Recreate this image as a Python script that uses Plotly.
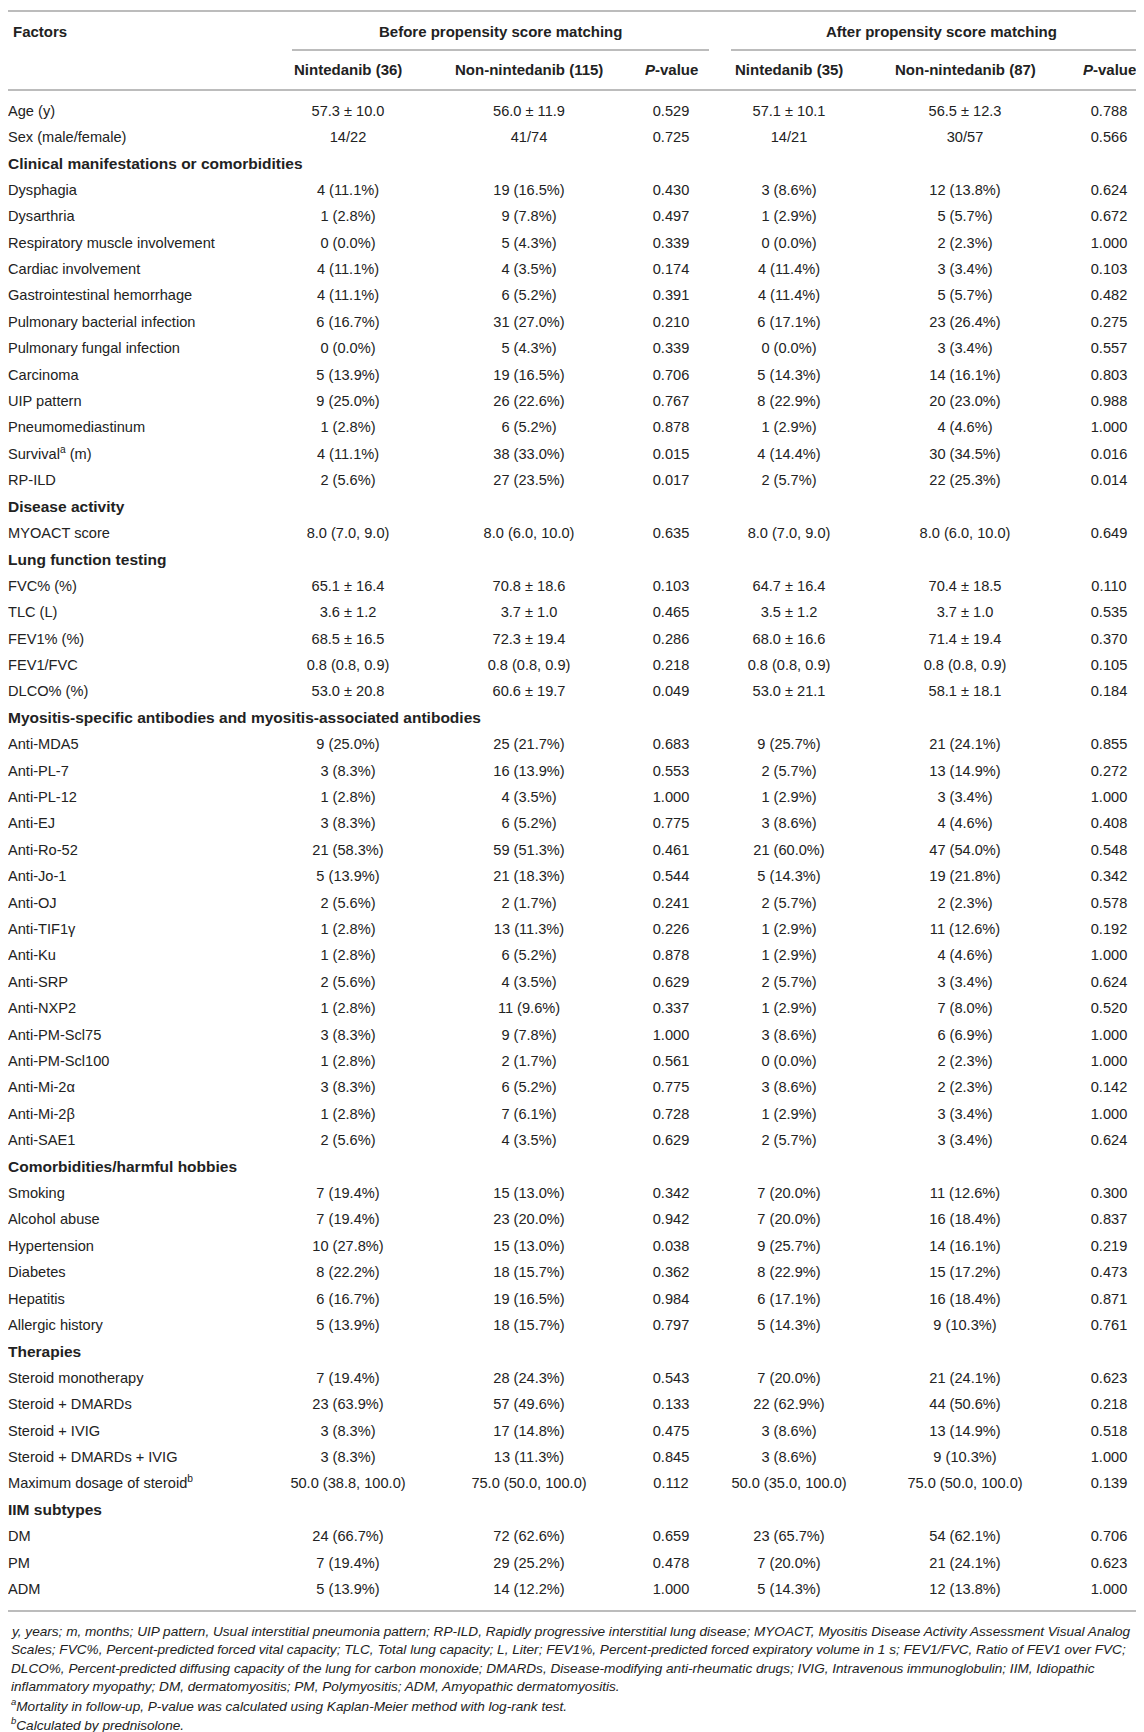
import plotly.graph_objects as go

# table content
factors = [
    "Age (y)", "Sex (male/female)",
    "Clinical manifestations or comorbidities",
    "Dysphagia", "Dysarthria", "Respiratory muscle involvement", "Cardiac involvement",
    "Gastrointestinal hemorrhage", "Pulmonary bacterial infection", "Pulmonary fungal infection",
    "Carcinoma", "UIP pattern", "Pneumomediastinum", "Survival<sup>a</sup> (m)", "RP-ILD",
    "Disease activity",
    "MYOACT score",
    "Lung function testing",
    "FVC% (%)", "TLC (L)", "FEV1% (%)", "FEV1/FVC", "DLCO% (%)",
    "Myositis-specific antibodies and myositis-associated antibodies",
    "Anti-MDA5", "Anti-PL-7", "Anti-PL-12", "Anti-EJ", "Anti-Ro-52", "Anti-Jo-1", "Anti-OJ",
    "Anti-TIF1γ", "Anti-Ku", "Anti-SRP", "Anti-NXP2", "Anti-PM-Scl75", "Anti-PM-Scl100",
    "Anti-Mi-2α", "Anti-Mi-2β", "Anti-SAE1",
    "Comorbidities/harmful hobbies",
    "Smoking", "Alcohol abuse", "Hypertension", "Diabetes", "Hepatitis", "Allergic history",
    "Therapies",
    "Steroid monotherapy", "Steroid + DMARDs", "Steroid + IVIG", "Steroid + DMARDs + IVIG",
    "Maximum dosage of steroid<sup>b</sup>",
    "IIM subtypes",
    "DM", "PM", "ADM",
]

sections = {
    "Clinical manifestations or comorbidities", "Disease activity", "Lung function testing",
    "Myositis-specific antibodies and myositis-associated antibodies",
    "Comorbidities/harmful hobbies", "Therapies", "IIM subtypes",
}

nin_before = [
    "57.3 ± 10.0", "14/22", "",
    "4 (11.1%)", "1 (2.8%)", "0 (0.0%)", "4 (11.1%)", "4 (11.1%)", "6 (16.7%)", "0 (0.0%)",
    "5 (13.9%)", "9 (25.0%)", "1 (2.8%)", "4 (11.1%)", "2 (5.6%)",
    "", "8.0 (7.0, 9.0)",
    "", "65.1 ± 16.4", "3.6 ± 1.2", "68.5 ± 16.5", "0.8 (0.8, 0.9)", "53.0 ± 20.8",
    "", "9 (25.0%)", "3 (8.3%)", "1 (2.8%)", "3 (8.3%)", "21 (58.3%)", "5 (13.9%)", "2 (5.6%)",
    "1 (2.8%)", "1 (2.8%)", "2 (5.6%)", "1 (2.8%)", "3 (8.3%)", "1 (2.8%)", "3 (8.3%)",
    "1 (2.8%)", "2 (5.6%)",
    "", "7 (19.4%)", "7 (19.4%)", "10 (27.8%)", "8 (22.2%)", "6 (16.7%)", "5 (13.9%)",
    "", "7 (19.4%)", "23 (63.9%)", "3 (8.3%)", "3 (8.3%)", "50.0 (38.8, 100.0)",
    "", "24 (66.7%)", "7 (19.4%)", "5 (13.9%)",
]

non_before = [
    "56.0 ± 11.9", "41/74", "",
    "19 (16.5%)", "9 (7.8%)", "5 (4.3%)", "4 (3.5%)", "6 (5.2%)", "31 (27.0%)", "5 (4.3%)",
    "19 (16.5%)", "26 (22.6%)", "6 (5.2%)", "38 (33.0%)", "27 (23.5%)",
    "", "8.0 (6.0, 10.0)",
    "", "70.8 ± 18.6", "3.7 ± 1.0", "72.3 ± 19.4", "0.8 (0.8, 0.9)", "60.6 ± 19.7",
    "", "25 (21.7%)", "16 (13.9%)", "4 (3.5%)", "6 (5.2%)", "59 (51.3%)", "21 (18.3%)",
    "2 (1.7%)", "13 (11.3%)", "6 (5.2%)", "4 (3.5%)", "11 (9.6%)", "9 (7.8%)", "2 (1.7%)",
    "6 (5.2%)", "7 (6.1%)", "4 (3.5%)",
    "", "15 (13.0%)", "23 (20.0%)", "15 (13.0%)", "18 (15.7%)", "19 (16.5%)", "18 (15.7%)",
    "", "28 (24.3%)", "57 (49.6%)", "17 (14.8%)", "13 (11.3%)", "75.0 (50.0, 100.0)",
    "", "72 (62.6%)", "29 (25.2%)", "14 (12.2%)",
]

p_before = [
    "0.529", "0.725", "",
    "0.430", "0.497", "0.339", "0.174", "0.391", "0.210", "0.339", "0.706", "0.767",
    "0.878", "0.015", "0.017",
    "", "0.635",
    "", "0.103", "0.465", "0.286", "0.218", "0.049",
    "", "0.683", "0.553", "1.000", "0.775", "0.461", "0.544", "0.241", "0.226", "0.878",
    "0.629", "0.337", "1.000", "0.561", "0.775", "0.728", "0.629",
    "", "0.342", "0.942", "0.038", "0.362", "0.984", "0.797",
    "", "0.543", "0.133", "0.475", "0.845", "0.112",
    "", "0.659", "0.478", "1.000",
]

nin_after = [
    "57.1 ± 10.1", "14/21", "",
    "3 (8.6%)", "1 (2.9%)", "0 (0.0%)", "4 (11.4%)", "4 (11.4%)", "6 (17.1%)", "0 (0.0%)",
    "5 (14.3%)", "8 (22.9%)", "1 (2.9%)", "4 (14.4%)", "2 (5.7%)",
    "", "8.0 (7.0, 9.0)",
    "", "64.7 ± 16.4", "3.5 ± 1.2", "68.0 ± 16.6", "0.8 (0.8, 0.9)", "53.0 ± 21.1",
    "", "9 (25.7%)", "2 (5.7%)", "1 (2.9%)", "3 (8.6%)", "21 (60.0%)", "5 (14.3%)", "2 (5.7%)",
    "1 (2.9%)", "1 (2.9%)", "2 (5.7%)", "1 (2.9%)", "3 (8.6%)", "0 (0.0%)", "3 (8.6%)",
    "1 (2.9%)", "2 (5.7%)",
    "", "7 (20.0%)", "7 (20.0%)", "9 (25.7%)", "8 (22.9%)", "6 (17.1%)", "5 (14.3%)",
    "", "7 (20.0%)", "22 (62.9%)", "3 (8.6%)", "3 (8.6%)", "50.0 (35.0, 100.0)",
    "", "23 (65.7%)", "7 (20.0%)", "5 (14.3%)",
]

non_after = [
    "56.5 ± 12.3", "30/57", "",
    "12 (13.8%)", "5 (5.7%)", "2 (2.3%)", "3 (3.4%)", "5 (5.7%)", "23 (26.4%)", "3 (3.4%)",
    "14 (16.1%)", "20 (23.0%)", "4 (4.6%)", "30 (34.5%)", "22 (25.3%)",
    "", "8.0 (6.0, 10.0)",
    "", "70.4 ± 18.5", "3.7 ± 1.0", "71.4 ± 19.4", "0.8 (0.8, 0.9)", "58.1 ± 18.1",
    "", "21 (24.1%)", "13 (14.9%)", "3 (3.4%)", "4 (4.6%)", "47 (54.0%)", "19 (21.8%)",
    "2 (2.3%)", "11 (12.6%)", "4 (4.6%)", "3 (3.4%)", "7 (8.0%)", "6 (6.9%)", "2 (2.3%)",
    "2 (2.3%)", "3 (3.4%)", "3 (3.4%)",
    "", "11 (12.6%)", "16 (18.4%)", "14 (16.1%)", "15 (17.2%)", "16 (18.4%)", "9 (10.3%)",
    "", "21 (24.1%)", "44 (50.6%)", "13 (14.9%)", "9 (10.3%)", "75.0 (50.0, 100.0)",
    "", "54 (62.1%)", "21 (24.1%)", "12 (13.8%)",
]

p_after = [
    "0.788", "0.566", "",
    "0.624", "0.672", "1.000", "0.103", "0.482", "0.275", "0.557", "0.803", "0.988",
    "1.000", "0.016", "0.014",
    "", "0.649",
    "", "0.110", "0.535", "0.370", "0.105", "0.184",
    "", "0.855", "0.272", "1.000", "0.408", "0.548", "0.342", "0.578", "0.192", "1.000",
    "0.624", "0.520", "1.000", "1.000", "0.142", "1.000", "0.624",
    "", "0.300", "0.837", "0.219", "0.473", "0.871", "0.761",
    "", "0.623", "0.218", "0.518", "1.000", "0.139",
    "", "0.706", "0.623", "1.000",
]

col_headers = ["Nintedanib (36)", "Non-nintedanib (115)", "<i>P</i>-value",
               "Nintedanib (35)", "Non-nintedanib (87)", "<i>P</i>-value"]
spanners = ["Before propensity score matching", "After propensity score matching"]

footnotes = [
    "y, years; m, months; UIP pattern, Usual interstitial pneumonia pattern; RP-ILD, Rapidly progressive interstitial lung disease; MYOACT, Myositis Disease Activity Assessment Visual Analog",
    "Scales; FVC%, Percent-predicted forced vital capacity; TLC, Total lung capacity; L, Liter; FEV1%, Percent-predicted forced expiratory volume in 1 s; FEV1/FVC, Ratio of FEV1 over FVC;",
    "DLCO%, Percent-predicted diffusing capacity of the lung for carbon monoxide; DMARDs, Disease-modifying anti-rheumatic drugs; IVIG, Intravenous immunoglobulin; IIM, Idiopathic",
    "inflammatory myopathy; DM, dermatomyositis; PM, Polymyositis; ADM, Amyopathic dermatomyositis.",
    "<sup>a</sup>Mortality in follow-up, P-value was calculated using Kaplan-Meier method with log-rank test.",
    "<sup>b</sup>Calculated by prednisolone.",
]

# layout (pixel space)
W, H = 1144, 1732
FONT = "Liberation Sans, Arial, Helvetica, sans-serif"
TXT = "#222222"
LINE = "#a6a6a6"
col_x = [340, 521, 663, 781, 957, 1101]
row0, pitch = 104, 26.4
row_y = [row0 + i * pitch for i in range(len(factors))]

fig = go.Figure()

# left column
labels = ["<b>" + f + "</b>" if f in sections else f for f in factors]
sizes = [15.5 if f in sections else 14.6 for f in factors]
fig.add_trace(go.Scatter(
    x=[0] * len(labels), y=row_y, text=labels, mode="text",
    textposition="middle right", textfont=dict(family=FONT, size=sizes, color=TXT),
    hoverinfo="skip", showlegend=False))

# value columns (section rows have no values, skip them)
for cx, vals in zip(col_x, [nin_before, non_before, p_before, nin_after, non_after, p_after]):
    ys = [y for y, v in zip(row_y, vals) if v]
    ts = [v for v in vals if v]
    fig.add_trace(go.Scatter(
        x=[cx] * len(ts), y=ys, text=ts, mode="text",
        textposition="middle center", textfont=dict(family=FONT, size=14.6, color=TXT),
        hoverinfo="skip", showlegend=False))

# header
hdr = dict(family=FONT, size=15, color=TXT)
fig.add_annotation(x=3, y=23, text="<b>Factors</b>", xanchor="left", yanchor="middle",
                   showarrow=False, font=hdr)
fig.add_annotation(x=(284 + 701) / 2, y=23, text="<b>" + spanners[0] + "</b>",
                   showarrow=False, font=hdr, yanchor="middle")
fig.add_annotation(x=(723 + 1144) / 2, y=23, text="<b>" + spanners[1] + "</b>",
                   showarrow=False, font=hdr, yanchor="middle")
for cx, h in zip(col_x, col_headers):
    fig.add_annotation(x=cx, y=61, text="<b>" + h + "</b>", showarrow=False,
                       font=hdr, yanchor="middle")

# rules
lines = [(0, W, 3), (284, 701, 42), (723, W, 42), (0, W, 82), (0, W, 1603)]
for x0, x1, yy in lines:
    fig.add_shape(type="line", x0=x0, x1=x1, y0=yy, y1=yy,
                  line=dict(color=LINE, width=1.6))

# footnotes
for i, t in enumerate(footnotes):
    fig.add_annotation(x=1, y=1623 + i * 18.5, text="<i>" + t + "</i>", xanchor="left",
                       yanchor="middle", showarrow=False,
                       font=dict(family=FONT, size=13.6, color=TXT))

fig.update_xaxes(range=[0, W], visible=False, fixedrange=True)
fig.update_yaxes(range=[H, 0], visible=False, fixedrange=True)
fig.update_layout(width=W, height=H, margin=dict(l=0, r=0, t=0, b=0),
                  plot_bgcolor="white", paper_bgcolor="white")

fig.write_html("out.html")
